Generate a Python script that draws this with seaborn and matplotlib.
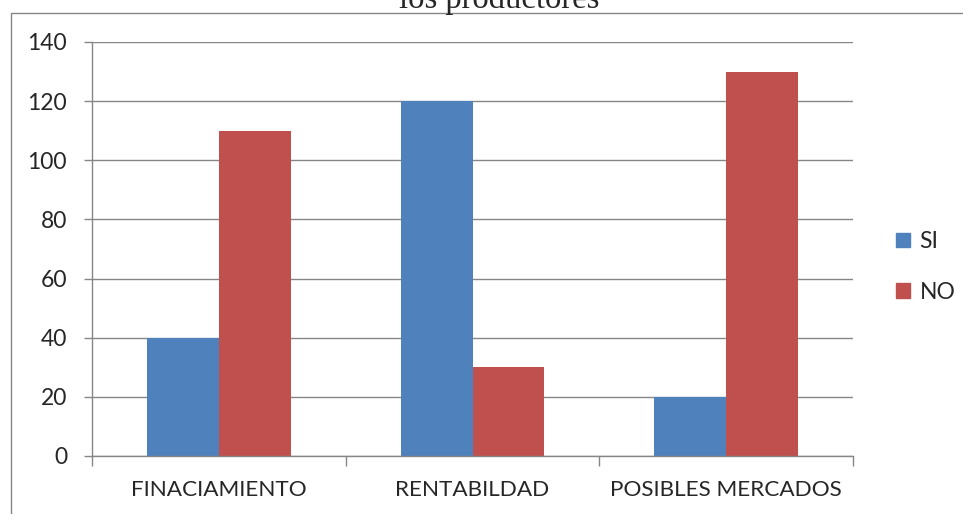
import numpy as np
import pandas as pd
import matplotlib
matplotlib.use("Agg")
import matplotlib.pyplot as plt
import matplotlib.patches as mpatches
import seaborn as sns

# ------------------------------------------------------------------ #
# Datos
# ------------------------------------------------------------------ #
categorias = ["FINACIAMIENTO", "RENTABILDAD", "POSIBLES MERCADOS"]
respuestas = ["SI", "NO"]
valores_si = [40, 120, 20]
valores_no = [110, 30, 130]
y_ticks    = [0, 20, 40, 60, 80, 100, 120, 140]
titulo     = "los productores"

colores = {"SI": "#4F81BD", "NO": "#C0504D"}
gris    = "#868686"

df = pd.DataFrame({
    "categoria": categorias * 2,
    "respuesta": ["SI"] * len(categorias) + ["NO"] * len(categorias),
    "valor":     valores_si + valores_no,
})

sns.set_style("white")
plt.rcParams["font.family"] = ["Lato", "DejaVu Sans"]

fig = plt.figure(figsize=(9.63, 5.14), dpi=100)
ax = fig.add_axes([92 / 963, 1 - 456 / 514, (853 - 92) / 963, (456 - 42) / 514])

sns.barplot(
    data=df, x="categoria", y="valor", hue="respuesta",
    order=categorias, hue_order=respuestas,
    palette=colores, saturation=1, width=0.567,
    linewidth=0, ax=ax, legend=False, errorbar=None,
)

# Ejes
ax.set_xlim(-0.5, len(categorias) - 0.5)
ax.set_ylim(0, 140)
ax.set_yticks(y_ticks)
ax.set_yticklabels([str(v) for v in y_ticks])
ax.set_xlabel("")
ax.set_ylabel("")
ax.yaxis.grid(True, color=gris, linewidth=1.0)
ax.set_axisbelow(True)

for side in ["top", "right"]:
    ax.spines[side].set_visible(False)
for side in ["left", "bottom"]:
    ax.spines[side].set_color(gris)
    ax.spines[side].set_linewidth(1.0)

# Marcas en los limites de categoria
ax.set_xticks(np.arange(-0.5, len(categorias)), minor=True)
ax.tick_params(axis="x", which="minor", length=7, width=1.0, color=gris, bottom=True)
ax.tick_params(axis="x", which="major", length=0, pad=17, labelsize=16.2)
ax.tick_params(axis="y", which="major", length=6, width=1.0, color=gris, left=True,
               pad=12, labelsize=16.5)

# Leyenda
handles = [mpatches.Patch(color=colores[r], label=r) for r in respuestas]
fig.legend(handles=handles, loc="center left", bbox_to_anchor=(887 / 963, 1 - 267 / 514),
           frameon=False, fontsize=16.5, handlelength=0.62, handleheight=0.62,
           handletextpad=0.4, labelspacing=1.3, borderaxespad=0)

# Titulo (cortado en la parte superior, como en el original)
fig.text(499 / 963, 1 - 8 / 514, titulo, ha="center", va="baseline",
         fontsize=23.5, family=["Liberation Serif", "DejaVu Serif"])

# Marco del grafico
marco = mpatches.Rectangle((10.5 / 963, -0.1), 1.2, 1 - 13 / 514 + 0.1,
                           transform=fig.transFigure, fill=False,
                           edgecolor=gris, linewidth=1.0)
fig.patches.append(marco)

plt.savefig("out.png", dpi=100)
plt.close()
